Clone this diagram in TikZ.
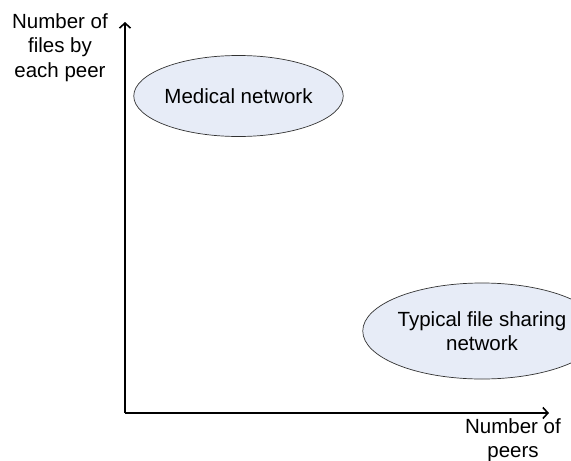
\documentclass[tikz,border=0pt]{standalone}
\usepackage{fontspec}
\setmainfont{Liberation Sans}
\usetikzlibrary{shapes.geometric,arrows.meta}
\definecolor{bubblefill}{RGB}{231,236,247}
\definecolor{bubbleline}{RGB}{50,50,50}
\begin{document}
\begin{tikzpicture}[x=1pt,y=-1pt,
  label/.style={align=center,font=\fontsize{20.5}{24.5}\selectfont,inner sep=0pt},
  bubble/.style={ellipse,draw=bubbleline,line width=0.7pt,fill=bubblefill,
    inner sep=0pt,align=center,font=\fontsize{20.5}{24.5}\selectfont},
  axis/.style={line width=2.2pt,-{Straight Barb[length=5pt,width=11pt,line width=1.6pt]}}]
  \useasboundingbox (0,0) rectangle (571,461);
  \clip (0,0) rectangle (571,461);
  % axes
  \coordinate (origin) at (125,413);
  \coordinate (ytip) at (125,22);
  \coordinate (xtip) at (549,413);
  \draw[axis] (origin) -- (ytip);
  \draw[axis] (origin) -- (xtip);
  % axis titles
  \node[label] (ylab) at (60,47.5) {Number of\\files by\\each peer};
  \node[label] (xlab) at (513,440) {Number of\\peers};
  % network regions
  \node[bubble,minimum width=163pt,minimum height=81pt] (medical) at (238.5,96) {Medical network};
  \node[bubble,minimum width=196pt,minimum height=96pt] (typical) at (482,331) {Typical file sharing\\network};
\end{tikzpicture}
\end{document}
